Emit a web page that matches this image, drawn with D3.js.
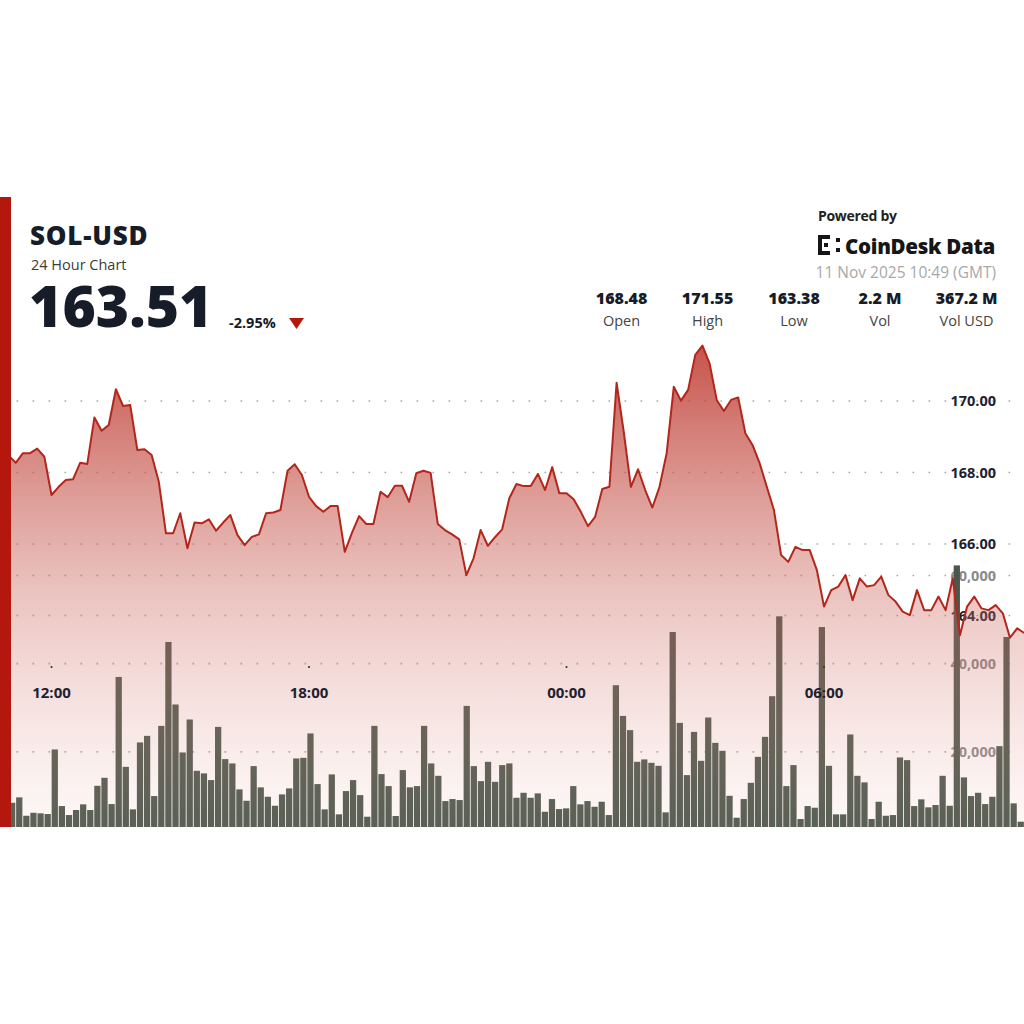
<!DOCTYPE html>
<html>
<head>
<meta charset="utf-8">
<script src="https://cdn.jsdelivr.net/npm/d3@7"></script>
<style>
  body { margin: 0; background: #fff; }
  svg { display: block; }
  text { font-family: "Open Sans", "Noto Sans", sans-serif; }
</style>
</head>
<body>
<div id="container"></div>
<script>
/* CONSTANTS AND GLOBALS */
const width = 1024,
  height = 1024,
  plotTop = 197,
  plotBottom = 827,
  plotLeft = 11,
  plotRight = 1024;

/* DATA (10 minute steps, 11:00 -> 10:40 GMT) */
const prices = [
  168.48, 168.27, 168.54, 168.54, 168.67, 168.44, 167.37, 167.60, 167.79, 167.81,
  168.27, 168.24, 169.54, 169.17, 169.33, 170.33, 169.86, 169.89, 168.63, 168.65,
  168.49, 167.74, 166.30, 166.30, 166.86, 165.88, 166.60, 166.58, 166.69, 166.37,
  166.60, 166.81, 166.25, 165.97, 166.20, 166.27, 166.86, 166.88, 166.95, 168.05,
  168.23, 167.93, 167.32, 167.06, 166.90, 167.06, 167.06, 165.78, 166.31, 166.78,
  166.56, 166.56, 167.46, 167.31, 167.63, 167.63, 167.18, 167.98, 168.05, 167.99,
  166.56, 166.39, 166.27, 166.13, 165.13, 165.60, 166.39, 165.95, 166.19, 166.41,
  167.28, 167.68, 167.62, 167.62, 167.96, 167.51, 168.15, 167.42, 167.42, 167.25,
  166.90, 166.50, 166.76, 167.54, 167.60, 170.51, 169.14, 167.60, 168.09, 167.51,
  167.02, 167.60, 168.54, 170.40, 170.01, 170.31, 171.29, 171.55, 171.05, 170.03,
  169.72, 170.03, 170.10, 169.10, 168.77, 168.26, 167.60, 166.95, 165.69, 165.50,
  165.92, 165.83, 165.83, 165.27, 164.25, 164.71, 164.81, 165.13, 164.43, 165.04,
  164.81, 164.85, 165.09, 164.57, 164.39, 164.11, 164.01, 164.71, 164.15, 164.15,
  164.53, 164.15, 165.04, 163.45, 164.25, 164.53, 164.20, 164.15, 164.29, 164.06,
  163.38, 163.64, 163.51
];

const volumes = [
  8450, 9670, 5500, 6180, 6050, 5890, 20540, 7700, 5660, 6800,
  8090, 6800, 12300, 14110, 8150, 36990, 16600, 6950, 22130, 23620,
  9970, 25890, 44920, 30740, 19860, 27340, 15700, 15110, 13590, 25660,
  18350, 17370, 11480, 8900, 16760, 11940, 9810, 7770, 10350, 11710,
  18500, 18640, 24170, 12680, 6950, 14880, 5820, 11100, 13590, 10190,
  5280, 25890, 14950, 12230, 5440, 15860, 11940, 12230, 25890, 17370,
  14560, 8830, 9290, 9060, 30420, 16760, 13360, 17740, 13200, 16990,
  17370, 9580, 10710, 9580, 10580, 6410, 9290, 7020, 7180, 12230,
  8090, 8830, 7540, 8680, 5660, 35110, 28150, 24920, 17740, 18280,
  17510, 16830, 6270, 47180, 26570, 14720, 24530, 17960, 27790, 22040,
  20230, 10030, 5050, 9290, 12980, 18870, 23400, 32620, 50740, 12230,
  16990, 4760, 7700, 7320, 48310, 16830, 5820, 5820, 23940, 14560,
  13070, 4760, 8680, 5500, 5660, 18730, 18120, 7700, 9220, 7410,
  7930, 14560, 7770, 62290, 14200, 9970, 10710, 8150, 9810, 21290,
  46050, 8310, 4150
];

const priceTicks = [164, 166, 168, 170];
const volumeTicks = [20000, 40000, 60000];

const statValues = ['168.48', '171.55', '163.38', '2.2 M', '367.2 M'];
const statLabels = ['Open', 'High', 'Low', 'Vol', 'Vol USD'];

const startTime = new Date(Date.UTC(2025, 10, 10, 11, 0));
const times = prices.map((d, i) => d3.utcMinute.offset(startTime, i * 10));

const data = prices.map((p, i) => ({ time: times[i], price: p, volume: volumes[i], i }));

/* SCALES */
const xScale = d3.scaleUtc()
  .domain(d3.extent(times))
  .range([8.6, 1024.3]);

const xBand = d3.scaleBand()
  .domain(d3.range(data.length))
  .range([8.6, 1024.3])
  .paddingInner(0.12)
  .paddingOuter(0.06);

const yPrice = d3.scaleLinear()
  .domain([164, 170])
  .range([615.5, 401]);

const yVol = d3.scaleLinear()
  .domain([0, 60000])
  .range([840, 575.5]);

/* SVG */
const svg = d3.select('#container')
  .append('svg')
  .attr('width', width)
  .attr('height', height);

svg.append('rect').attr('width', width).attr('height', height).attr('fill', '#fff');

const defs = svg.append('defs');

defs.append('clipPath').attr('id', 'plot-clip')
  .append('rect')
  .attr('x', plotLeft).attr('y', plotTop)
  .attr('width', plotRight - plotLeft).attr('height', plotBottom - plotTop);

const grad = defs.append('linearGradient')
  .attr('id', 'area-grad')
  .attr('gradientUnits', 'userSpaceOnUse')
  .attr('x1', 0).attr('y1', 344)
  .attr('x2', 0).attr('y2', plotBottom);
grad.append('stop').attr('offset', 0).attr('stop-color', 'rgb(188,52,42)').attr('stop-opacity', 0.85);
grad.append('stop').attr('offset', 0.5).attr('stop-color', 'rgb(200,92,82)').attr('stop-opacity', 0.38);
grad.append('stop').attr('offset', 1).attr('stop-color', 'rgb(235,180,172)').attr('stop-opacity', 0.1);

const plot = svg.append('g').attr('clip-path', 'url(#plot-clip)');

// GRIDLINES (dotted)
const gridYs = priceTicks.map(d => yPrice(d)).concat(volumeTicks.map(d => yVol(d)));
plot.selectAll('.grid')
  .data(gridYs)
  .join('line')
  .attr('class', 'grid')
  .attr('x1', 16.5).attr('x2', plotRight)
  .attr('y1', d => d).attr('y2', d => d)
  .attr('stroke', '#a9a9a9')
  .attr('stroke-width', 1.6)
  .attr('stroke-dasharray', '1.6,14.4');

// AXIS LABELS
plot.selectAll('.plabel')
  .data(priceTicks)
  .join('text')
  .attr('class', 'plabel')
  .attr('x', 996)
  .attr('y', d => yPrice(d))
  .attr('dy', '0.36em')
  .attr('text-anchor', 'end')
  .attr('font-size', 14.5)
  .attr('font-weight', 700)
  .attr('fill', '#1d2230')
  .text(d => d3.format('.2f')(d));

plot.selectAll('.vlabel')
  .data(volumeTicks)
  .join('text')
  .attr('class', 'vlabel')
  .attr('x', 996)
  .attr('y', d => yVol(d))
  .attr('dy', '0.36em')
  .attr('text-anchor', 'end')
  .attr('font-size', 14.5)
  .attr('font-weight', 700)
  .attr('fill', '#8a8a8a')
  .text(d => d3.format(',')(d));

// VOLUME BARS
plot.selectAll('.bar')
  .data(data)
  .join('rect')
  .attr('class', 'bar')
  .attr('x', d => xBand(d.i))
  .attr('y', d => yVol(d.volume))
  .attr('width', xBand.bandwidth())
  .attr('height', d => yVol(0) - yVol(d.volume))
  .attr('fill', '#4a574c');

// AREA + LINE
const area = d3.area()
  .x(d => xScale(d.time))
  .y0(plotBottom)
  .y1(d => yPrice(d.price));

const line = d3.line()
  .x(d => xScale(d.time))
  .y(d => yPrice(d.price));

plot.append('path')
  .attr('d', area(data))
  .attr('fill', 'url(#area-grad)');

plot.append('path')
  .attr('d', line(data))
  .attr('fill', 'none')
  .attr('stroke', '#b3261c')
  .attr('stroke-width', 2)
  .attr('stroke-linejoin', 'round');

// TIME AXIS
const timeTicks = xScale.ticks(d3.utcHour.every(6));
const tg = svg.append('g');
tg.selectAll('circle')
  .data(timeTicks)
  .join('circle')
  .attr('cx', d => xScale(d))
  .attr('cy', 667)
  .attr('r', 1.1)
  .attr('fill', '#333');
tg.selectAll('text')
  .data(timeTicks)
  .join('text')
  .attr('x', d => xScale(d))
  .attr('y', 698)
  .attr('text-anchor', 'middle')
  .attr('font-size', 15)
  .attr('font-weight', 700)
  .attr('fill', '#1d2230')
  .text(d => d3.utcFormat('%H:%M')(d));

// LEFT RED BAR
svg.append('rect')
  .attr('x', 0).attr('y', plotTop)
  .attr('width', plotLeft).attr('height', plotBottom - plotTop)
  .attr('fill', '#b3170d');

// HEADER
const header = svg.append('g');
header.append('text')
  .attr('x', 30).attr('y', 245)
  .attr('font-size', 26).attr('font-weight', 800)
  .attr('letter-spacing', 0.8)
  .attr('fill', '#161c28')
  .text('SOL-USD');
header.append('text')
  .attr('x', 31).attr('y', 270)
  .attr('font-size', 14.5)
  .attr('fill', '#3c3c3c')
  .text('24 Hour Chart');
header.append('text')
  .attr('x', 29).attr('y', 327)
  .attr('font-size', 57).attr('font-weight', 800)
  .attr('fill', '#161c28')
  .text(prices[prices.length - 1].toFixed(2));
header.append('text')
  .attr('x', 229).attr('y', 328)
  .attr('font-size', 14.5).attr('font-weight', 700)
  .attr('fill', '#161c28')
  .text('-2.95%');
header.append('path')
  .attr('d', 'M289,318 L304,318 L296.5,329 Z')
  .attr('fill', '#b3170d');

// POWERED BY
header.append('text')
  .attr('x', 818).attr('y', 221)
  .attr('font-size', 14).attr('font-weight', 700)
  .attr('fill', '#222')
  .attr('letter-spacing', -0.3)
  .text('Powered by');

const logo = header.append('g').attr('fill', '#161616');
[[818, 235, 4, 20], [818, 235, 12, 4], [818, 251, 12, 4], [824, 243, 4, 4],
 [836, 238, 4, 4], [836, 248, 4, 4]].forEach(r => {
  logo.append('rect').attr('x', r[0]).attr('y', r[1]).attr('width', r[2]).attr('height', r[3]);
});
header.append('text')
  .attr('x', 845).attr('y', 254)
  .attr('font-size', 20.5).attr('font-weight', 800)
  .attr('fill', '#161616')
  .attr('letter-spacing', -0.3)
  .text('CoinDesk Data');
header.append('text')
  .attr('x', 996).attr('y', 278)
  .attr('text-anchor', 'end')
  .attr('font-size', 15.5)
  .attr('fill', '#a8a8a8')
  .text('11 Nov 2025 10:49 (GMT)');

// STATS
const statX = [621.5, 707.5, 794, 880, 966.5];
header.selectAll('.sval')
  .data(statValues)
  .join('text')
  .attr('class', 'sval')
  .attr('x', (d, i) => statX[i]).attr('y', 304)
  .attr('text-anchor', 'middle')
  .attr('font-size', 16).attr('font-weight', 800)
  .attr('fill', '#161c28')
  .text(d => d);
header.selectAll('.slab')
  .data(statLabels)
  .join('text')
  .attr('class', 'slab')
  .attr('x', (d, i) => statX[i]).attr('y', 326)
  .attr('text-anchor', 'middle')
  .attr('font-size', 14.5)
  .attr('fill', '#444')
  .text(d => d);
</script>
</body>
</html>
